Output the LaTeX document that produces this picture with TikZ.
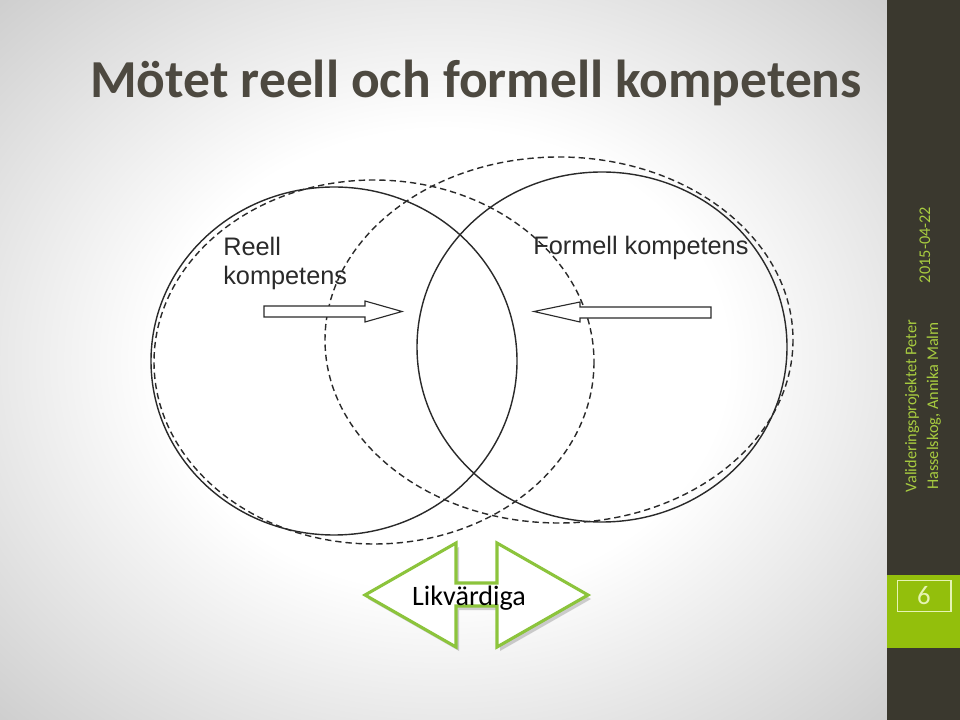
\documentclass[tikz,border=0pt]{standalone}
\usepackage{fontspec}
\setmainfont{Carlito}
\newfontfamily\scanfont{Liberation Sans}
\usetikzlibrary{positioning}
\definecolor{SlideGray}{HTML}{CDCDCD}
\definecolor{SideDark}{HTML}{3A382E}
\definecolor{SideGreen}{HTML}{93BF0C}
\definecolor{SideText}{HTML}{A8CC40}
\definecolor{Pale}{HTML}{E6F4B4}
\definecolor{TitleInk}{HTML}{4D4940}
\definecolor{Ink}{HTML}{2A2A2A}
\definecolor{LeafGreen}{HTML}{8CC43C}
\pgfdeclareradialshading{slideglow}{\pgfpoint{0bp}{0bp}}{color(0bp)=(white);color(16bp)=(white);color(36bp)=(SlideGray);color(50bp)=(SlideGray)}

\begin{document}
\begin{tikzpicture}[x=.025cm,y=-.025cm,
    solidring/.style={line width=1pt,Ink},
    dashring/.style={line width=1pt,Ink,dash pattern=on 4.5pt off 2.8pt},
    blockarrow/.style={line width=.8pt,Ink,fill=white,line join=miter},
    scantext/.style={font=\scanfont\fontsize{18}{21.3}\selectfont,text=Ink,align=left,inner sep=0pt},
    sidetext/.style={font=\fontsize{11.6}{15.6}\selectfont,text=SideText,rotate=90,align=center,inner sep=0pt}]
  \useasboundingbox(0,0)rectangle(960,720);
  % slide background and side bar
  \shade[shading=slideglow](0,0)rectangle(887,720);
  \fill[SideDark](887,0)rectangle(960,720);
  \fill[SideGreen](887,575)rectangle(960,648);
  \node[font=\bfseries\fontsize{38}{44}\selectfont,text=TitleInk,anchor=base west,inner sep=0pt](title)at(90,98){Mötet reell och formell kompetens};
  % the four rings
  \draw[dashring](374,362)ellipse[x radius=220,y radius=182];
  \draw[dashring](559,340)ellipse[x radius=234,y radius=183];
  \draw[solidring](334,361)ellipse[x radius=183,y radius=174];
  \draw[solidring](602,347)ellipse[x radius=185,y radius=175];
  \node[scantext,anchor=base west](reell)at(223,285){Reell\\kompetens};
  \node[scantext,anchor=base west](formell)at(533,255){Formell kompetens};
  \draw[blockarrow](264,306)--(365,306)--(365,301)--(402,311.5)--(365,322)--(365,317)--(264,317)--cycle;
  \draw[blockarrow](711,307)--(580,307)--(580,302)--(534,311.5)--(580,322)--(580,318)--(711,318)--cycle;
  % equal sign arrow
  \fill[black,opacity=.18](368,599)--(459,547)--(459,587)--(500,587)--(500,547)--(591,599)--(500,651)--(500,610)--(459,610)--(459,651)--cycle;
  \draw[LeafGreen,line width=2.2pt,fill=white,line join=miter](365,595)--(456,543)--(456,583)--(497,583)--(497,543)--(588,595)--(497,647)--(497,606)--(456,606)--(456,647)--cycle;
  \node[font=\fontsize{20}{24}\selectfont,text=black](likv)at(469,598){Likvärdiga};
  % side bar texts
  \node[sidetext](date)at(925,245){2015-04-22};
  \node[sidetext](authors)at(923,406){Valideringsprojektet Peter\\Hasselskog, Annika Malm};
  \node[draw=Pale,line width=1.1pt,minimum width=38pt,minimum height=22pt,text=Pale,font=\fontsize{19}{21}\selectfont](pagenum)at(924,596){6};
\end{tikzpicture}
\end{document}
